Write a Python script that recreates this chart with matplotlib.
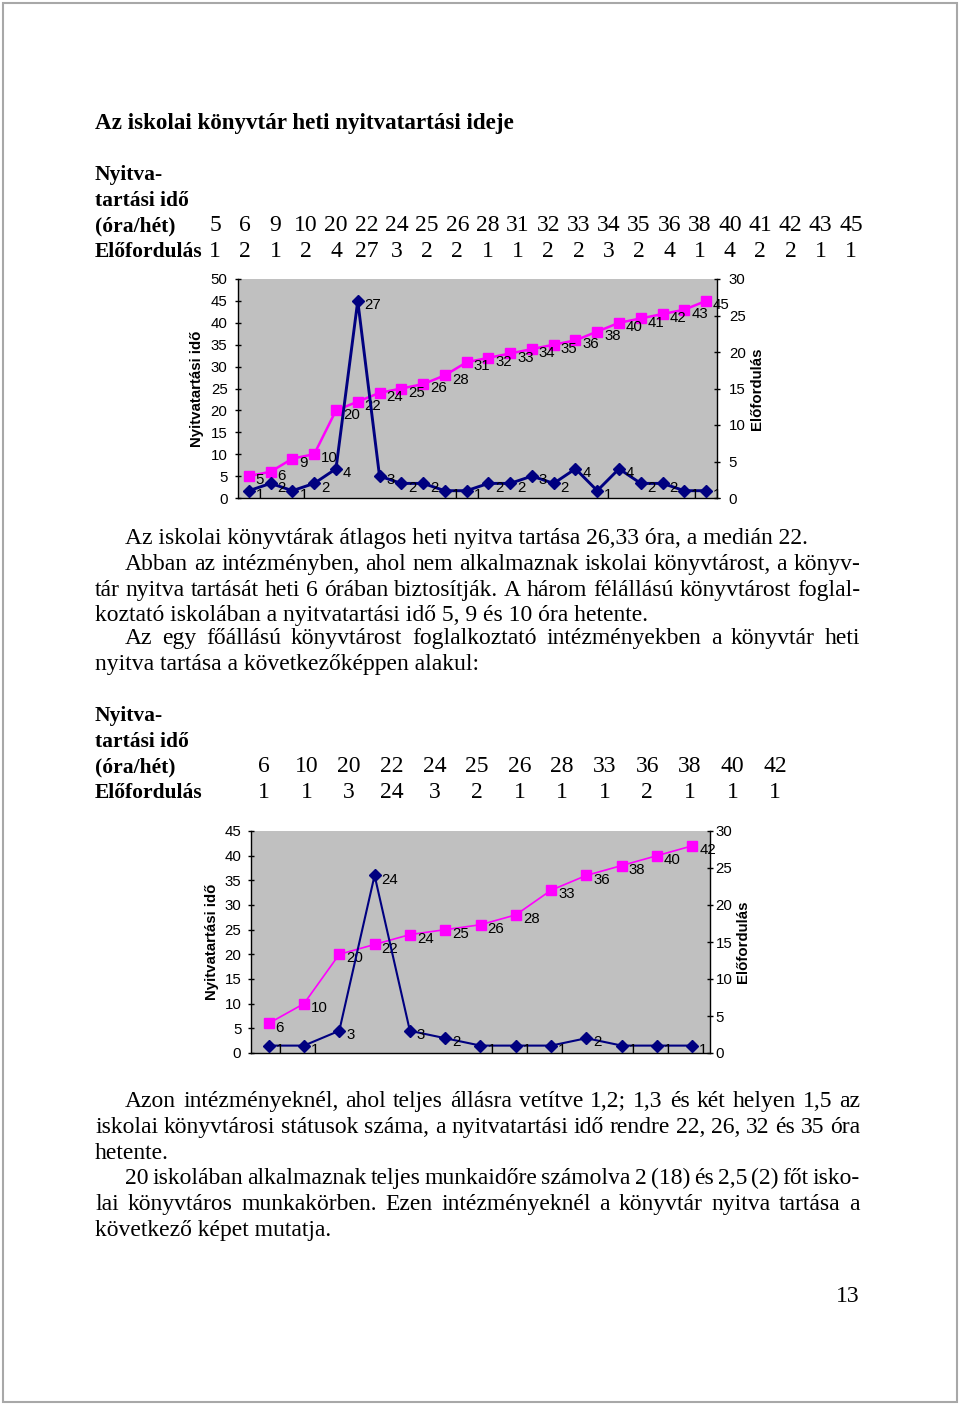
import matplotlib
matplotlib.use("Agg")
import matplotlib.pyplot as plt
from matplotlib.patches import Rectangle

W, H = 960, 1405

# 1. táblázat / grafikon: minden iskola
hours_all = [5, 6, 9, 10, 20, 22, 24, 25, 26, 28, 31, 32, 33, 34, 35, 36, 38, 40, 41, 42, 43, 45]
counts_all = [1, 2, 1, 2, 4, 27, 3, 2, 2, 1, 1, 2, 2, 3, 2, 4, 1, 4, 2, 2, 1, 1]

# 2. táblázat / grafikon: egy főállású könyvtáros
hours_one = [6, 10, 20, 22, 24, 25, 26, 28, 33, 36, 38, 40, 42]
counts_one = [1, 1, 3, 24, 3, 2, 1, 1, 1, 2, 1, 1, 1]

title = "Az iskolai könyvtár heti nyitvatartási ideje"
row_heads = ["Nyitva-", "tartási idő", "(óra/hét)", "Előfordulás"]

para1 = [
    ("Az iskolai könyvtárak átlagos heti nyitva tartása 26,33 óra, a medián 22.", 125, False),
    ("Abban az intézményben, ahol nem alkalmaznak iskolai könyvtárost, a könyv-", 125, True),
    ("tár nyitva tartását heti 6 órában biztosítják. A három félállású könyvtárost foglal-", 95, True),
    ("koztató iskolában a nyitvatartási idő 5, 9 és 10 óra hetente.", 95, False),
    ("Az egy főállású könyvtárost foglalkoztató intézményekben a könyvtár heti", 125, True),
    ("nyitva tartása a következőképpen alakul:", 95, False),
]
para2 = [
    ("Azon intézményeknél, ahol teljes állásra vetítve 1,2; 1,3 és két helyen 1,5 az", 125, True),
    ("iskolai könyvtárosi státusok száma, a nyitvatartási idő rendre 22, 26, 32 és 35 óra", 95, True),
    ("hetente.", 95, False),
    ("20 iskolában alkalmaznak teljes munkaidőre számolva 2 (18) és 2,5 (2) főt isko-", 125, True),
    ("lai könyvtáros munkakörben. Ezen intézményeknél a könyvtár nyitva tartása a", 95, True),
    ("következő képet mutatja.", 95, False),
]

SERIF = "Liberation Serif"
SANS = "Liberation Sans"
FS = 17
CFS = 10.8

fig = plt.figure(figsize=(W / 100, H / 100), dpi=100)
fig.patch.set_facecolor("white")
renderer = fig.canvas.get_renderer()

# oldal kerete
fig.patches.append(Rectangle((3 / W, 3 / H), 1 - 6 / W, 1 - 6 / H, transform=fig.transFigure,
                             fill=False, edgecolor="#a8a8a8", linewidth=1.5))


def put(x, y, s, **kw):
    kw.setdefault("family", SERIF)
    kw.setdefault("fontsize", FS)
    kw.setdefault("va", "baseline")
    return fig.text(x / W, 1 - y / H, s, **kw)


def line(s, x0, y, just, x1=860):
    if not just:
        put(x0, y, s)
        return
    words = s.split()
    ts = [put(0, y, w) for w in words]
    widths = [t.get_window_extent(renderer).width for t in ts]
    gap = (x1 - x0 - sum(widths)) / (len(words) - 1)
    x = x0
    for t, w in zip(ts, widths):
        t.set_x(x / W)
        x += w + gap


def table(y0, xs, hours, counts):
    for i, h in enumerate(row_heads):
        put(95, y0 + i * 25.7, h, fontweight="bold", fontsize=15.5)
    for x, h, c in zip(xs, hours, counts):
        put(x, y0 + 2 * 25.7, str(h), ha="center")
        put(x, y0 + 3 * 25.7, str(c), ha="center")


def chart(rect, hours, counts, ymax_left, lab_x, rlab_x, lw, pads):
    l, t, r, b = rect
    ax = fig.add_axes([l / W, 1 - b / H, (r - l) / W, (b - t) / H])
    ax.set_facecolor("#c0c0c0")
    ax2 = ax.twinx()
    x = list(range(len(hours)))
    ax.plot(x, hours, color="#ff00ff", lw=lw, marker="s", ms=7, zorder=3)
    ax2.plot(x, counts, color="#000080", lw=lw + 0.3, marker="D", ms=6, zorder=3)
    for xi, v in zip(x, hours):
        ax.annotate(str(v), (xi, v), xytext=(5, -3), textcoords="offset points",
                    ha="left", va="center", fontsize=CFS, family=SANS)
    for xi, v in zip(x, counts):
        ax2.annotate(str(v), (xi, v), xytext=(5, -3), textcoords="offset points",
                     ha="left", va="center", fontsize=CFS, family=SANS)
    ax.set_xlim(-0.5, len(hours) - 0.5)
    ax.set_ylim(0, ymax_left)
    ax2.set_ylim(0, 30)
    ax.set_yticks(range(0, ymax_left + 1, 5))
    ax2.set_yticks(range(0, 31, 5))
    ax.set_xticks([])
    for a, pad in zip((ax, ax2), pads):
        a.spines["top"].set_visible(False)
        for s in ("left", "right", "bottom"):
            a.spines[s].set_linewidth(1)
        a.tick_params(direction="inout", length=5, width=1, labelsize=CFS, pad=pad)
        for lab in a.get_yticklabels():
            lab.set_family(SANS)
    ax.spines["right"].set_visible(False)
    ax2.spines["left"].set_visible(False)
    ax2.spines["bottom"].set_visible(False)
    cy = 1 - (t + b) / 2 / H
    fig.text(lab_x / W, cy, "Nyitvatartási idő", rotation=90, ha="center", va="center",
             fontsize=CFS, fontweight="bold", family=SANS)
    fig.text(rlab_x / W, cy, "Előfordulás", rotation=90, ha="center", va="center",
             fontsize=CFS, fontweight="bold", family=SANS)


put(95, 129, title, fontweight="bold", fontsize=16.6)

table(180, [215 + i * 30.29 for i in range(len(hours_all))], hours_all, counts_all)
chart((238, 279, 717, 498), hours_all, counts_all, 50, 197, 757, 1.8, (5, 6))

for i, (s, x0, just) in enumerate(para1):
    line(s, x0, [544, 570, 596, 621, 644, 670][i], just)

table(721, [264 + i * 42.58 for i in range(len(hours_one))], hours_one, counts_one)
chart((251, 831, 710, 1053), hours_one, counts_one, 45, 212, 743, 1.2, (4.5, 1.5))

for i, (s, x0, just) in enumerate(para2):
    line(s, x0, 1107 + i * 25.8, just)

put(860, 1302, "13", ha="right")

fig.savefig("out.png", dpi=100)
